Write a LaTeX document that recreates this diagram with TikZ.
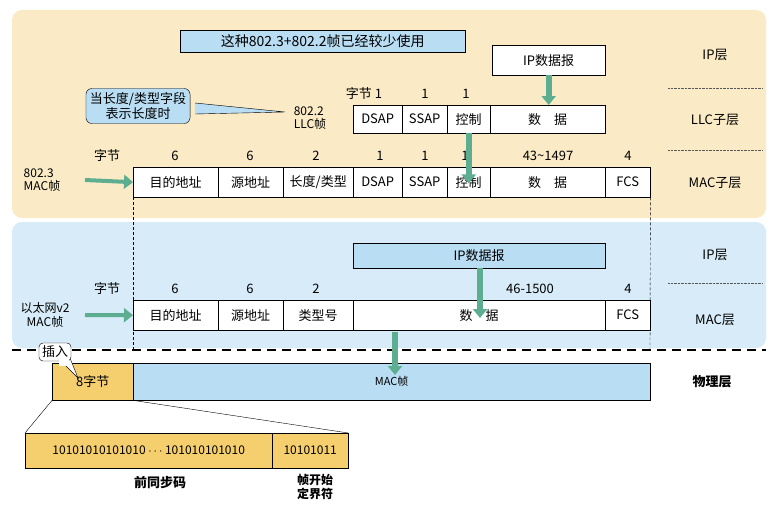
\documentclass[tikz,border=0pt]{standalone}
\usepackage{fontspec}
\setmainfont{Noto Sans CJK SC}
\usetikzlibrary{arrows.meta}
\definecolor{ybg}{HTML}{FAEBC6}
\definecolor{bbg}{HTML}{D7EBF8}
\definecolor{bbox}{HTML}{B9DDF3}
\definecolor{gar}{HTML}{5DAE90}
\definecolor{ybox}{HTML}{F5CF6E}
\tikzset{
 cell/.style={draw,fill=white,minimum height=30pt,inner sep=0pt,font=\fontsize{13}{14}\selectfont},
 lab/.style={font=\fontsize{13}{14}\selectfont,inner sep=1pt},
 lab2/.style={font=\fontsize{12}{13.5}\selectfont,inner sep=1pt},
 rlab/.style={font=\fontsize{13}{14}\selectfont},
 garrow/.style={line width=6pt,-{Triangle[length=9pt,width=14pt]},color=gar},
 sep/.style={densely dotted,gray!70!black},
}
\begin{document}
\begin{tikzpicture}[x=1pt,y=-1pt]
\useasboundingbox (0,0) rectangle (775,511);
\fill[white] (0,0) rectangle (775,511);
\fill[ybg,rounded corners=10pt] (12,10) rectangle (766,218);
\fill[bbg,rounded corners=10pt] (12,222) rectangle (766,348);
\foreach \y in {88,150,283}{\draw[sep] (668,\y) -- (762,\y);}
\node[rlab] (l1) at (715,55) {IP层};
\node[rlab] (l2) at (715,120) {LLC子层};
\node[rlab] (l3) at (715,183) {MAC子层};
\node[rlab] (l4) at (715,255) {IP层};
\node[rlab] (l5) at (715,320) {MAC层};
\node[rlab,font=\fontsize{13}{14}\selectfont\bfseries] (l6) at (712,382) {物理层};
\node[draw,fill=bbox,minimum width=285pt,minimum height=22pt,anchor=north west,font=\fontsize{14}{15}\selectfont] (title) at (180,30) {这种802.3+802.2帧已经较少使用};
\node[cell,minimum width=113pt,anchor=north west] (ip1) at (492,45) {IP数据报};
\node[cell,minimum width=49pt,minimum height=28pt,anchor=north west] (c1) at (353,105) {DSAP};
\node[cell,minimum width=45pt,minimum height=28pt,anchor=north west] (c2) at (402,105) {SSAP};
\node[cell,minimum width=43pt,minimum height=28pt,anchor=north west] (c3) at (447,105) {控制};
\node[cell,minimum width=115pt,minimum height=28pt,anchor=north west] (c4) at (490,105) {数\quad 据};
\node[lab] (b0) at (364,94) {字节 1};
\node[lab] (b1) at (425,94) {1};
\node[lab] (b2) at (466,94) {1};
\node[lab2,align=left] (llc) at (310,118) {802.2\\LLC帧};
\fill[bbox] (195,103) -- (285,112) -- (195,114) -- cycle;
\draw (195,103) -- (285,112) -- (195,114);
\node[draw,fill=bbox,rounded corners=6pt,align=center,inner sep=4pt,font=\fontsize{13}{15}\selectfont] (cb) at (138,106) {当长度/类型字段\\表示长度时};
\draw[garrow] (ip1.south) -- (c4.north -| ip1.south);
\foreach \n/\a/\b/\t in {m1/133/218/目的地址,m2/218/283/源地址,m3/283/353/{长度/类型},m4/353/402/DSAP,m5/402/447/SSAP,m6/447/490/控制,m7/490/605/数\quad 据,m8/605/650/FCS}{
  \node[cell,minimum width=\b-\a,anchor=north west] (\n) at (\a,167) {\t};}
\foreach \x/\t in {107/字节,175/6,250/6,316/2,380/1,425/1,465/1,548/43\textasciitilde1497,628/4}{\node[lab] at (\x,156) {\t};}
\node[lab2,align=left] (mac3) at (42,180) {802.3\\MAC帧};
\draw[garrow,line width=4pt] (85,180) -- (m1.west);
\draw[garrow] (c3.south) -- ++(0,50);
\draw[densely dashed] (m1.south west) -- (133,350);
\draw[densely dashed] (m8.south east) -- (650,350);
\node[draw,fill=bbox,minimum width=252pt,minimum height=25pt,anchor=north west,font=\fontsize{13}{14}\selectfont] (ip2) at (353,243) {IP数据报};
\foreach \n/\a/\b/\t in {e1/133/218/目的地址,e2/218/283/源地址,e3/283/353/类型号,e4/353/605/数\quad 据,e5/605/650/FCS}{
  \node[cell,minimum width=\b-\a,anchor=north west] (\n) at (\a,300) {\t};}
\foreach \x/\t in {107/字节,175/6,250/6,316/2,530/46-1500,628/4}{\node[lab] at (\x,289) {\t};}
\node[lab2,align=center] (eth) at (45,315) {以太网v2\\MAC帧};
\draw[garrow,line width=4pt] (85,315) -- (e1.west);
\draw[garrow] (480,268) -- (480,318);
\draw[line width=1.6pt,dash pattern=on 9pt off 6pt] (12,350) -- (766,350);
\node[draw,fill=ybox,minimum width=81pt,minimum height=37pt,anchor=north west,inner sep=0pt,font=\fontsize{13}{14}\selectfont] (p8) at (52,363) {8字节};
\node[draw,fill=bbox,minimum width=517pt,minimum height=37pt,anchor=north west,inner sep=0pt,font=\fontsize{11}{12}\selectfont] (pm) at (133,363) {MAC帧};
\draw[garrow] (395,332) -- (395,375);
\draw[fill=white] (58,358) -- (78,378) -- (70,358);
\node[draw,fill=white,rounded corners=4pt,font=\fontsize{13}{14}\selectfont,inner sep=3pt] (ins) at (55,352) {插入};
\fill[white] (59,360) -- (69,360) -- (69,366) -- (59,366);
\node[draw,fill=ybox,minimum width=247pt,minimum height=35pt,anchor=north west,inner sep=0pt,font=\fontsize{12}{13}\selectfont] (pre) at (25,433) {10101010101010 $\cdots$ 101010101010};
\node[draw,fill=ybox,minimum width=76pt,minimum height=35pt,anchor=north west,inner sep=0pt,font=\fontsize{12}{13}\selectfont] (sfd) at (272,433) {10101011};
\draw (p8.south west) -- (pre.north west);
\draw (p8.south east) -- (sfd.north east);
\node[font=\fontsize{13}{14}\selectfont\bfseries] (t1) at (160,483) {前同步码};
\node[font=\fontsize{12}{14}\selectfont\bfseries,align=center] (t2) at (315,487) {帧开始\\定界符};
\end{tikzpicture}
\end{document}
